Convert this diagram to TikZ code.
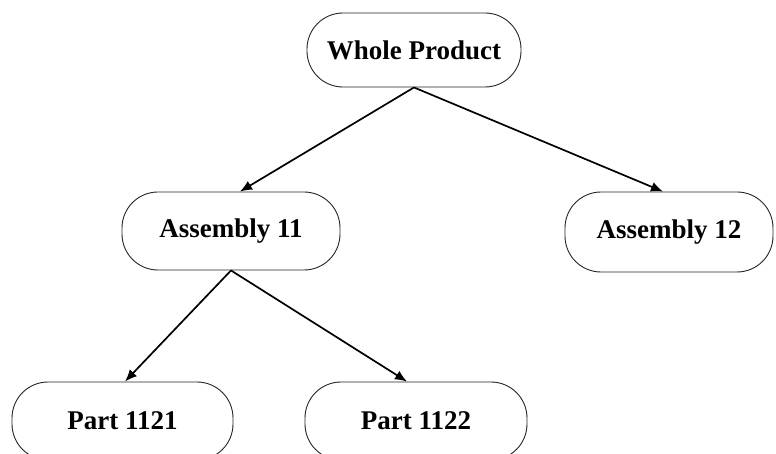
\documentclass[tikz,border=0pt]{standalone}
\usepackage{fontspec}
\setmainfont{Liberation Serif}
\usetikzlibrary{arrows.meta}
\begin{document}
\begin{tikzpicture}[x=1pt,y=-1pt,
  box/.style={draw=black!85, line width=0.9pt, rounded corners=36pt, inner sep=0pt,
    font=\fontsize{27}{30}\selectfont\bfseries},
  arr/.style={draw=black, line width=1.7pt, -{Latex[length=12pt,width=10pt]}}]
\useasboundingbox (0,0) rectangle (776,454);
\clip (0,0) rectangle (776,454);
\node[box, minimum width=214pt, minimum height=74pt] (wp) at (414,50) {Whole Product};
\node[box, minimum width=218pt, minimum height=78pt] (a11) at (231,231) {Assembly 11};
\node[box, minimum width=208pt, minimum height=80pt] (a12) at (669,232) {Assembly 12};
\node[box, minimum width=221pt, minimum height=78pt] (p1) at (122.5,421) {Part 1121};
\node[box, minimum width=222pt, minimum height=78pt] (p2) at (416,421) {Part 1122};
\draw[arr] (wp.south) -- ([xshift=9pt]a11.north);
\draw[arr] (wp.south) -- ([xshift=-6pt]a12.north);
\draw[arr] (a11.south) -- ([xshift=2.5pt]p1.north);
\draw[arr] (a11.south) -- ([xshift=-9pt]p2.north);
\end{tikzpicture}
\end{document}
